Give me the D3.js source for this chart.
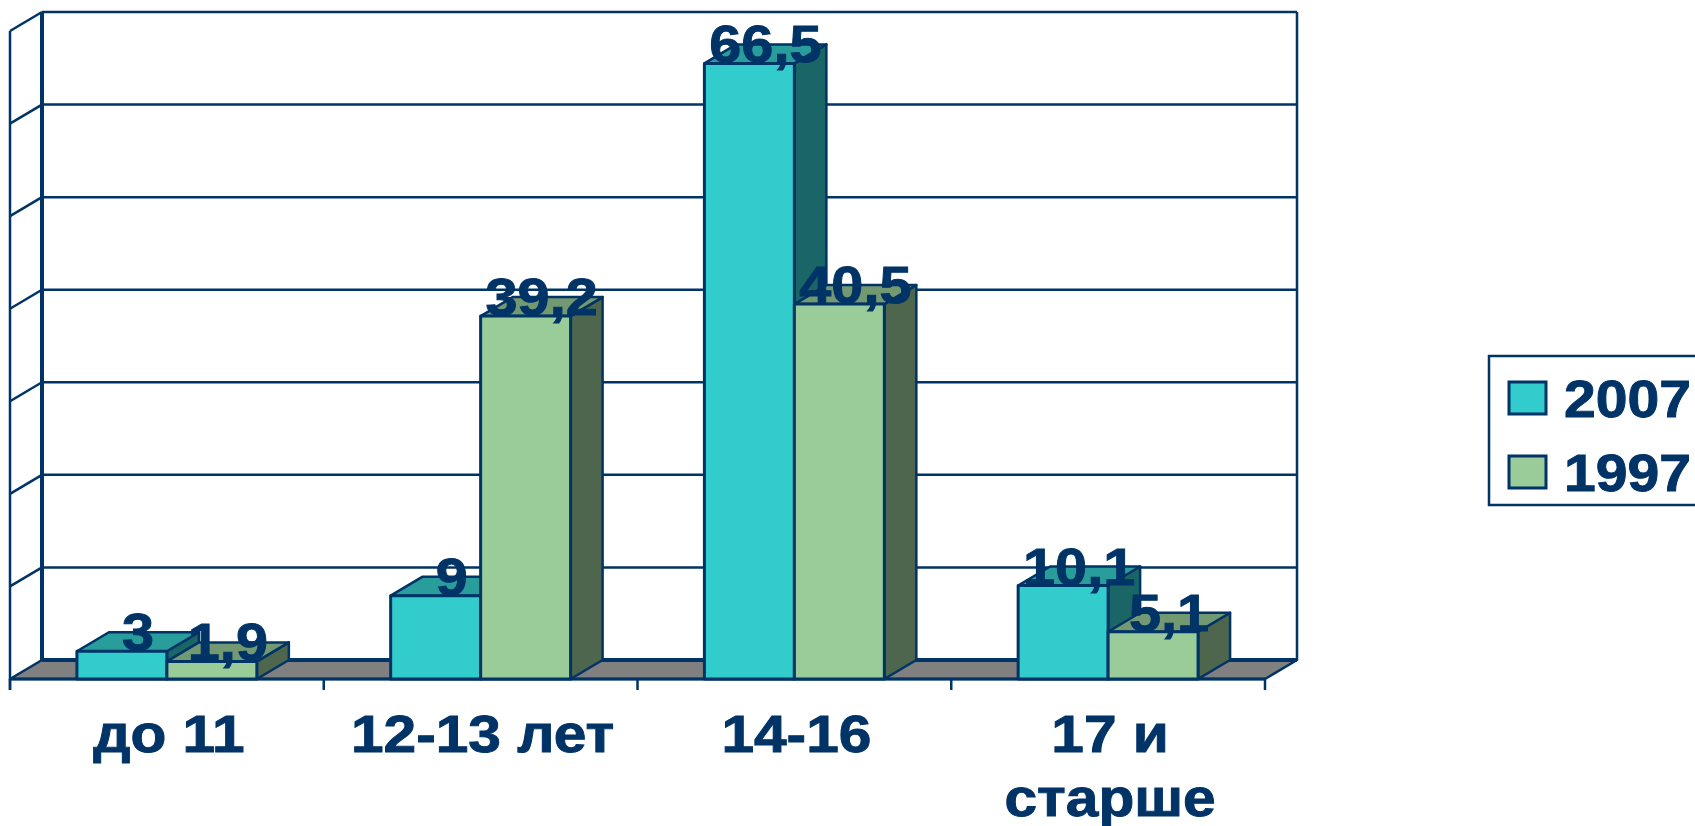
<!DOCTYPE html>
<html><head><meta charset="utf-8">
<script src="https://d3js.org/d3.v7.min.js"></script>
<style>html,body{margin:0;padding:0;background:#fff;overflow:hidden}svg{display:block}text{font-family:"Liberation Sans",Arial,sans-serif;font-weight:bold;fill:#003366;stroke:#003366;stroke-width:0.9px}</style>
</head><body><svg id="c" width="1695" height="826"></svg>
<script>
const categories = ["до 11", "12-13 лет", "14-16", "17 и старше"];
const categoryLines = [["до 11"], ["12-13 лет"], ["14-16"], ["17 и", "старше"]];
const seriesNames = ["2007", "1997"];
const values2007 = [3, 9, 66.5, 10.1];
const values1997 = [1.9, 39.2, 40.5, 5.1];
const labels2007 = ["3", "9", "66,5", "10,1"];
const labels1997 = ["1,9", "39,2", "40,5", "5,1"];
const front = "#33CCCC", top1 = "#299C9C", side1 = "#1A6666";
const front2 = "#99CC99", top2 = "#739973", side2 = "#4D664D";
const ink = "#003366";

const dx = 32, dy = -19;
const svg = d3.select("#c");
const x = d3.scaleBand().domain(categories).range([10, 1265]).paddingInner(0.4265).paddingOuter(0.2133);
const sub = d3.scaleBand().domain(seriesNames).range([0, x.bandwidth()]);
const y = d3.scaleLinear().domain([0, 70]).range([679, 31]);
const edge = d3.scaleLinear().domain([0, categories.length]).range([10, 1265]);
const L = edge(0), R = edge(categories.length), Y0 = y(0);
const poly = (pts, fill, w) => svg.append("polygon").attr("points", pts.map(p => p.join(",")).join(" "))
  .attr("fill", fill).attr("stroke", ink).attr("stroke-width", w).attr("stroke-linejoin", "round");
const line = (a, b, c, d, w) => svg.append("line").attr("x1", a).attr("y1", b).attr("x2", c).attr("y2", d)
  .attr("stroke", ink).attr("stroke-width", w);
const label = (txt, px, py, anchor, sx) => svg.append("text").text(txt)
  .attr("text-anchor", anchor).attr("font-size", 51)
  .attr("transform", `translate(${px},${py}) scale(${sx},1)`);

// back wall, side wall, gridlines
y.ticks(7).forEach(t => {
  if (t > 0) {
    line(L + dx, y(t) + dy, R + dx, y(t) + dy, 2.5);
    line(L, y(t), L + dx, y(t) + dy, 2.5);
  }
});
line(L, y(70), L, Y0 + 11, 2.5);
line(L + dx, y(70) + dy, L + dx, Y0 + dy, 4);
line(R + dx, y(70) + dy, R + dx, Y0 + dy, 2.5);

// floor
poly([[L, Y0], [L + dx, Y0 + dy], [R + dx, Y0 + dy], [R, Y0]], "#808080", 2.5);
line(L + dx, Y0 + dy, R + dx, Y0 + dy, 4);
line(L, Y0, R, Y0, 3);

// ticks
d3.range(categories.length + 1).forEach(i => line(edge(i), Y0, edge(i), Y0 + 11, 2.5));

// bars
function bar(cat, name, v, cF, cT, cS) {
  const a = x(cat) + sub(name), b = a + sub.bandwidth(), t = y(v);
  poly([[b, t], [b + dx, t + dy], [b + dx, Y0 + dy], [b, Y0]], cS, 2.5);
  poly([[a, t], [a + dx, t + dy], [b + dx, t + dy], [b, t]], cT, 2.5);
  poly([[a, t], [b, t], [b, Y0], [a, Y0]], cF, 3);
}
categories.forEach((c, i) => {
  bar(c, seriesNames[0], values2007[i], front, top1, side1);
  bar(c, seriesNames[1], values1997[i], front2, top2, side2);
});

// value labels
categories.forEach((c, i) => {
  [[seriesNames[0], values2007, labels2007], [seriesNames[1], values1997, labels1997]].forEach(([n, vs, ls]) => {
    label(ls[i], x(c) + sub(n) + sub.bandwidth() / 2 + dx / 2, y(vs[i]) - 1, "middle", 1.13);
  });
});

// category labels
categories.forEach((c, i) => {
  categoryLines[i].forEach((t, k) => label(t, x(c) + x.bandwidth() / 2 + 2, 752 + k * 64, "middle", 1.15));
});

// legend
svg.append("rect").attr("x", 1489).attr("y", 356).attr("width", 260).attr("height", 149)
  .attr("fill", "#fff").attr("stroke", ink).attr("stroke-width", 2.5);
[[seriesNames[0], front, 382, 417], [seriesNames[1], front2, 456, 491]].forEach(([n, col, ry, by]) => {
  svg.append("rect").attr("x", 1509).attr("y", ry).attr("width", 37).attr("height", 32)
    .attr("fill", col).attr("stroke", ink).attr("stroke-width", 3);
  label(n, 1564, by, "start", 1.12);
});
</script></body></html>
